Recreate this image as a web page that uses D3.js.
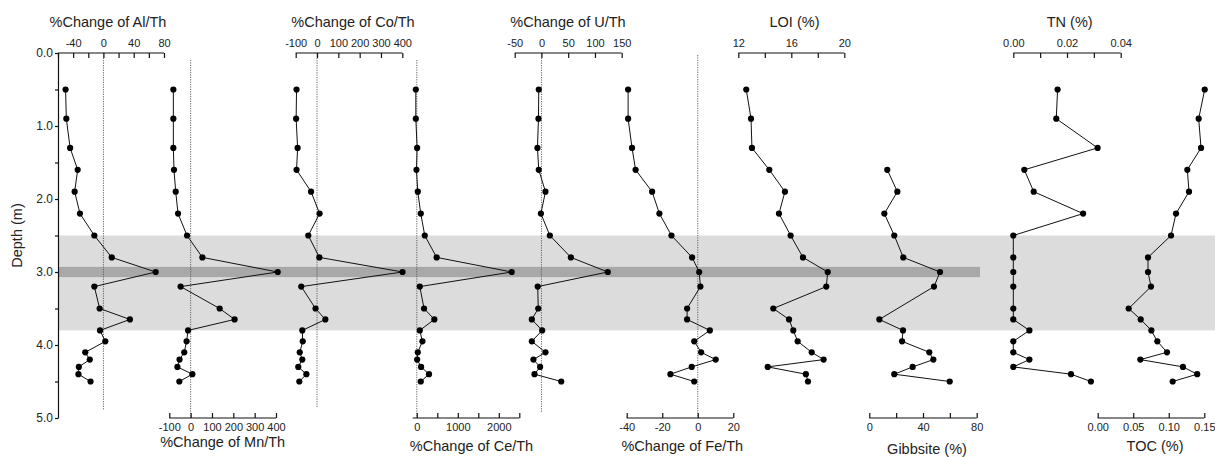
<!DOCTYPE html>
<html>
<head>
<meta charset="utf-8">
<script src="https://cdn.jsdelivr.net/npm/d3@7"></script>
<style>
  html, body { margin: 0; padding: 0; background: #fff; }
  svg { display: block; font-family: "Liberation Sans", Arial, sans-serif; }
  .axis path, .axis line { stroke: #111; stroke-width: 1.2; }
  .axis text { fill: #222; font-size: 11px; }
  .yaxis text { font-size: 12px; }
  .title { fill: #222; font-size: 14.5px; }
</style>
</head>
<body>
<svg id="chart" width="1215" height="457"></svg>
<script>
// Sample depths (m)
const depth = [0.5, 0.9, 1.3, 1.6, 1.9, 2.2, 2.5, 2.8, 3.0, 3.2, 3.5, 3.65, 3.8, 3.95, 4.1, 4.2, 4.3, 4.4, 4.5];

// Percent change of element/Th ratios
const alTh = [-50, -49, -44, -34, -38, -31, -12, 11, 69, -12, -5, 35, -4.5, 2.5, -24, -18, -32.5, -33, -17];
const mnTh = [-81, -81, -81, -78, -70, -59, -17, 55, 408, -47, 136, 206, -12, -19, -30, -52, -62, 8, -53];
const coTh = [-96, -98, -91, -96, -28, 12, -41, 11, 401, -74, -7, 39, -69, -67, -81, -69, -88, -50, -83];
const ceTh = [-24, -24, 8, -8, 24, 97, 194, 484, 2315, 73, 177, 428, 73, 137, 24, 8, 105, 298, 97];
const uTh = [-5, -5.6, -7.5, -5, 7.5, -1, 15.7, 55, 124, -7, -6, -18, 1.3, -18, 7.5, -15, -2.5, -13, 37];
const feTh = [-39.2, -39.2, -37, -35, -25.7, -21.6, -14.8, -3.2, 0.8, 1.5, -6, -6, 6.8, -2, 1.9, 10.1, -3.4, -15.4, -2];

// Bulk properties
const loi = [12.6, 12.96, 13.03, 14.34, 15.52, 15.07, 15.95, 16.88, 18.75, 18.64, 14.64, 15.83, 16.15, 16.48, 17.54, 18.44, 14.22, 17.1, 17.26];
const gibbsiteDepth = [1.6, 1.9, 2.2, 2.5, 2.8, 3.0, 3.2, 3.65, 3.8, 3.95, 4.1, 4.2, 4.3, 4.4, 4.5];
const gibbsite = [13.4, 20.9, 11.2, 18.6, 25.3, 52.7, 48.2, 7.5, 25.1, 24.4, 44.7, 47.7, 32.3, 18.6, 59.9];
const tn = [0.0165, 0.016, 0.0314, 0.0041, 0.0076, 0.026, 0, 0, 0, 0, 0, 0, 0.006, 0, 0, 0.006, 0, 0.0215, 0.0289];
const toc = [0.1506, 0.1421, 0.1454, 0.1261, 0.1285, 0.1102, 0.1032, 0.0708, 0.0708, 0.075, 0.0436, 0.0605, 0.0755, 0.0839, 0.0975, 0.060, 0.120, 0.140, 0.1055];

// Depth axis ticks and shaded intervals
const depthTicks = [0, 0.5, 1, 1.5, 2, 2.5, 3, 3.5, 4, 4.5, 5];
const depthLabels = [0, 1, 2, 3, 4, 5];
const zoneLight = [2.5, 3.8];
const zoneDark = [2.93, 3.07];

// Axis ticks per panel
const alTicks = [-60, -40, -20, 0, 20, 40, 60, 80], alLabels = [-40, 0, 40, 80];
const mnTicks = [-100, 0, 100, 200, 300, 400], mnLabels = mnTicks;
const coTicks = [-100, 0, 100, 200, 300, 400], coLabels = coTicks;
const ceTicks = [0, 500, 1000, 1500, 2000, 2500], ceLabels = [0, 1000, 2000];
const uTicks = [-50, 0, 50, 100, 150], uLabels = uTicks;
const feTicks = [-40, -20, 0, 20], feLabels = feTicks;
const loiTicks = [12, 14, 16, 18, 20], loiLabels = [12, 16, 20];
const gibTicks = [0, 20, 40, 60, 80], gibLabels = [0, 40, 80];
const tnTicks = [0, 0.01, 0.02, 0.03, 0.04], tnLabels = [0, 0.02, 0.04];
const tocTicks = [0, 0.05, 0.1, 0.15], tocLabels = tocTicks;

const svg = d3.select("#chart");
const yTop = 53, yBot = 418, xLeft = 58;
const y = d3.scaleLinear().domain([0, 5]).range([yTop, yBot]);

const asc = s => s.replace("\u2212", "-");
const intFmt = d => asc(String(d));
const f2 = d => asc(d3.format(".2f")(d));

const panels = [
  { title: "%Change of Al/Th", vals: alTh, dep: depth, domain: [-60, 80], range: [58, 164], pos: "top", ticks: alTicks, labels: alLabels, fmt: intFmt, zero: [53, 410], tx: 108 },
  { title: "%Change of Mn/Th", vals: mnTh, dep: depth, domain: [-100, 400], range: [169.3, 276], pos: "bottom", ticks: mnTicks, labels: mnLabels, fmt: intFmt, zero: [60, 418], tx: 222.7, ty: 447 },
  { title: "%Change of Co/Th", vals: coTh, dep: depth, domain: [-100, 400], range: [295.7, 402.3], pos: "top", ticks: coTicks, labels: coLabels, fmt: intFmt, zero: [53, 408], tx: 353 },
  { title: "%Change of Ce/Th", vals: ceTh, dep: depth, domain: [-100, 2500], range: [412.7, 519.3], pos: "bottom", ticks: ceTicks, labels: ceLabels, fmt: intFmt, zero: [60, 418], tx: 471.5, ty: 451 },
  { title: "%Change of U/Th", vals: uTh, dep: depth, domain: [-50, 150], range: [514.7, 621.7], pos: "top", ticks: uTicks, labels: uLabels, fmt: intFmt, zero: [53, 412], tx: 568 },
  { title: "%Change of Fe/Th", vals: feTh, dep: depth, domain: [-40, 20], range: [626.7, 733.3], pos: "bottom", ticks: feTicks, labels: feLabels, fmt: intFmt, zero: [55, 418], tx: 682.3, ty: 451 },
  { title: "LOI (%)", vals: loi, dep: depth, domain: [12, 20], range: [738.3, 844.3], pos: "top", ticks: loiTicks, labels: loiLabels, fmt: intFmt, zero: null, tx: 794.5 },
  { title: "Gibbsite (%)", vals: gibbsite, dep: gibbsiteDepth, domain: [0, 80], range: [869.3, 976.7], pos: "bottom", ticks: gibTicks, labels: gibLabels, fmt: intFmt, zero: null, tx: 927, ty: 454 },
  { title: "TN (%)", vals: tn, dep: depth, domain: [0, 0.04], range: [1013.3, 1120.7], pos: "top", ticks: tnTicks, labels: tnLabels, fmt: f2, zero: null, tx: 1069.7 },
  { title: "TOC (%)", vals: toc, dep: depth, domain: [0, 0.15], range: [1097.7, 1204.3], pos: "bottom", ticks: tocTicks, labels: tocLabels, fmt: f2, zero: null, tx: 1155, ty: 451 }
];

// Shaded depth intervals
svg.append("rect")
  .attr("x", xLeft).attr("width", 1215 - xLeft)
  .attr("y", y(zoneLight[0])).attr("height", y(zoneLight[1]) - y(zoneLight[0]))
  .attr("fill", "#dcdcdc");
svg.append("rect")
  .attr("x", xLeft).attr("width", 980 - xLeft)
  .attr("y", y(zoneDark[0])).attr("height", y(zoneDark[1]) - y(zoneDark[0]))
  .attr("fill", "#a8a8a8");

// Depth axis
svg.append("g").attr("class", "axis yaxis")
  .attr("transform", `translate(${xLeft},0)`)
  .call(d3.axisLeft(y).tickValues(depthTicks).tickSizeInner(3).tickSizeOuter(0).tickPadding(2)
    .tickFormat(d => depthLabels.includes(d) ? d3.format(".1f")(d) : ""));

svg.append("text").attr("class", "title")
  .attr("transform", `translate(22,${(yTop + yBot) / 2}) rotate(-90)`)
  .attr("text-anchor", "middle")
  .text("Depth (m)");

const line = d3.line();

panels.forEach(p => {
  const x = d3.scaleLinear().domain(p.domain).range(p.range);
  const g = svg.append("g");

  // Reference line at zero change
  if (p.zero) {
    g.append("line")
      .attr("x1", x(0)).attr("x2", x(0)).attr("y1", p.zero[0]).attr("y2", p.zero[1])
      .attr("stroke", "#555").attr("stroke-width", 0.9).attr("stroke-dasharray", "1.2,1.2");
  }

  const axisGen = (p.pos === "top" ? d3.axisTop(x) : d3.axisBottom(x))
    .tickValues(p.ticks).tickSizeInner(-5).tickSizeOuter(0)
    .tickPadding(p.pos === "top" ? 6.5 : 5)
    .tickFormat(d => p.labels.some(l => Math.abs(l - d) < 1e-9) ? p.fmt(d) : "");
  const ax = g.append("g").attr("class", "axis")
    .attr("transform", `translate(0,${p.pos === "top" ? yTop : yBot})`)
    .call(axisGen);
  ax.select(".domain").attr("d", `M${p.range[0]},0H${p.range[1]}`);

  g.append("text").attr("class", "title")
    .attr("x", p.tx).attr("y", p.pos === "top" ? 27 : p.ty)
    .attr("text-anchor", "middle").text(p.title);

  const pts = p.vals.map((v, i) => [x(v), y(p.dep[i])]);
  g.append("path").attr("d", line(pts))
    .attr("fill", "none").attr("stroke", "#111").attr("stroke-width", 1);
  g.selectAll("circle").data(pts).join("circle")
    .attr("cx", d => d[0]).attr("cy", d => d[1]).attr("r", 3.1)
    .attr("fill", "#000");
});
</script>
</body>
</html>
